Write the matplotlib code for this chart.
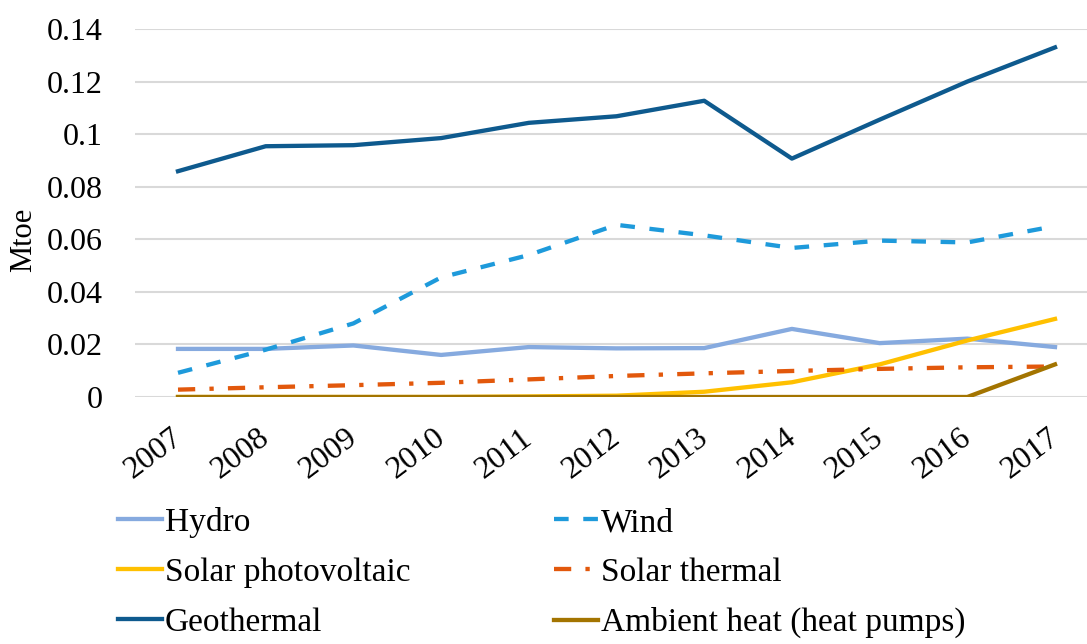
import matplotlib.pyplot as plt
import matplotlib.transforms as mtransforms
import numpy as np

# data (Mtoe)
years = ['2007', '2008', '2009', '2010', '2011', '2012', '2013', '2014', '2015', '2016', '2017']
hydro = [0.0183, 0.0183, 0.0196, 0.0160, 0.0190, 0.0185, 0.0186, 0.0259, 0.0205, 0.0222, 0.0190]
wind = [0.0092, 0.0180, 0.0280, 0.0455, 0.0540, 0.0655, 0.0615, 0.0567, 0.0595, 0.0588, 0.0650]
solar_pv = [0.0, 0.0, 0.0, 0.0, 0.0002, 0.0005, 0.0020, 0.0056, 0.0124, 0.0215, 0.0297]
solar_thermal = [0.0028, 0.0037, 0.0045, 0.0054, 0.0067, 0.0080, 0.0090, 0.0099, 0.0107, 0.0113, 0.0116]
geothermal = [0.0859, 0.0954, 0.0958, 0.0985, 0.1043, 0.1068, 0.1127, 0.0907, 0.1055, 0.1200, 0.1330]
ambient = [0.0, 0.0, 0.0, 0.0, 0.0, 0.0, 0.0, 0.0, 0.0, 0.0, 0.0124]
yticks = [0, 0.02, 0.04, 0.06, 0.08, 0.1, 0.12, 0.14]

plt.rcParams['font.family'] = ['Liberation Serif', 'DejaVu Serif']

W, H = 1087, 644
fig = plt.figure(figsize=(W / 100, H / 100), dpi=100)
ax = fig.add_axes([135 / W, 1 - 397 / H, 1 - 135 / W, (397 - 29) / H])

x = np.arange(len(years))
lw = 3.1
l_hydro, = ax.plot(x, hydro, color='#86AADF', lw=lw, label='Hydro')
l_wind, = ax.plot(x, wind, color='#1E9ADB', lw=lw, dashes=(3.4, 3.4), label='Wind')
l_pv, = ax.plot(x, solar_pv, color='#FFC000', lw=lw, label='Solar photovoltaic')
l_st, = ax.plot(x, solar_thermal, color='#E2580C', lw=lw, dashes=(4.0, 3.3, 1.0, 3.3), label='Solar thermal')
l_geo, = ax.plot(x, geothermal, color='#0E5A8E', lw=lw, label='Geothermal')
l_amb, = ax.plot(x, ambient, color='#A37400', lw=lw, label='Ambient heat (heat pumps)')

step = 87.7
ax.set_xlim(-(178 - 135) / step, (1087 - 178) / step)
ax.set_ylim(0, 0.14)
ax.set_yticks(yticks)
ax.set_yticklabels(['0', '0.02', '0.04', '0.06', '0.08', '0.1', '0.12', '0.14'])
ax.set_xticks(x)
ax.set_xticklabels(years, rotation=37, ha='right', va='top', rotation_mode='anchor')
ax.tick_params(axis='both', length=0, labelsize=23)
ax.tick_params(axis='y', pad=23)
ax.tick_params(axis='x', pad=19)
shift = mtransforms.ScaledTranslation(-8 / 100, 0, fig.dpi_scale_trans)
for lab in ax.get_xticklabels():
    lab.set_transform(lab.get_transform() + shift)
ax.grid(axis='y', color='#D9D9D9', lw=1.5)
ax.set_axisbelow(True)
for s in ax.spines.values():
    s.set_visible(False)

ax.set_ylabel('Mtoe', fontsize=22, va='center')
ax.yaxis.set_label_coords((24 - 135) / 952, (397 - 240) / 368)

# legend fills column by column, so order handles to read row by row
handles = [l_hydro, l_pv, l_geo, l_wind, l_st, l_amb]
fig.legend(handles=handles, loc='upper left', bbox_to_anchor=(118 / W, 1 - 507 / H), ncol=2,
           frameon=False, fontsize=24, handlelength=1.32, handletextpad=0.09, columnspacing=4.3,
           labelspacing=0.58, borderpad=0, borderaxespad=0)

fig.savefig('out.png', dpi=100)
